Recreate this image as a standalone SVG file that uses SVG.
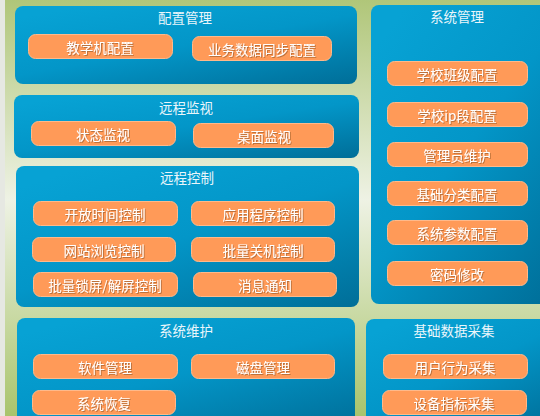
<svg xmlns="http://www.w3.org/2000/svg" width="540" height="416" viewBox="0 0 540 416">
<defs>
<linearGradient id="bg" x1="0" y1="0" x2="0" y2="1">
<stop offset="0" stop-color="#b0c679"/>
<stop offset="0.48" stop-color="#eef2e4"/>
<stop offset="1" stop-color="#a9c46c"/>
</linearGradient>
<linearGradient id="pn" x1="0.2" y1="0" x2="1" y2="1">
<stop offset="0" stop-color="#07a2d4"/>
<stop offset="0.45" stop-color="#0396c8"/>
<stop offset="1" stop-color="#006e98"/>
</linearGradient>
<filter id="sh" x="-10%" y="-30%" width="120%" height="160%">
<feGaussianBlur in="SourceAlpha" stdDeviation="0.6"/>
<feOffset dx="0.5" dy="0.5" result="b"/>
<feFlood flood-color="#7a4a20" flood-opacity="0.5"/>
<feComposite in2="b" operator="in"/>
<feMerge><feMergeNode/><feMergeNode in="SourceGraphic"/></feMerge>
</filter>
</defs>
<style>
.panel{fill:url(#pn)}
.btn{fill:#ff9a58;stroke:#ffb98a;stroke-width:1}
.t{font-family:"Noto Sans CJK SC","Liberation Sans",sans-serif;font-size:13.5px;fill:#ffffff;text-anchor:middle;dominant-baseline:central}
.bt{filter:url(#sh)}
.tt{fill:#eaf6fb}
</style>
<rect x="0" y="0" width="540" height="416" fill="url(#bg)"/>
<rect x="0" y="0" width="5" height="416" fill="#e6e8e2"/>

<g id="peizhi">
<rect class="panel" x="15" y="6" width="342" height="78" rx="8"/>
<text class="t tt" x="185" y="17">配置管理</text>
<g id="jxjpz"><rect class="btn" x="28.5" y="34.5" width="144" height="24" rx="7"/><text class="t bt" x="100" y="46.5">教学机配置</text></g>
<g id="ywsjtb"><rect class="btn" x="192.5" y="36.5" width="139" height="24" rx="7"/><text class="t bt" x="262" y="48.5">业务数据同步配置</text></g>
</g>

<g id="yuanchengjianshi">
<rect class="panel" x="14" y="95" width="345" height="63" rx="8"/>
<text class="t tt" x="186" y="107">远程监视</text>
<g id="ztjs"><rect class="btn" x="31.5" y="121.5" width="144" height="24" rx="7"/><text class="t bt" x="103" y="133.5">状态监视</text></g>
<g id="zmjs"><rect class="btn" x="193.5" y="123.5" width="140" height="24" rx="7"/><text class="t bt" x="264" y="135.5">桌面监视</text></g>
</g>

<g id="yuanchengkongzhi">
<rect class="panel" x="16" y="166" width="343" height="141" rx="8"/>
<text class="t tt" x="187" y="177">远程控制</text>
<g id="kfsj"><rect class="btn" x="33.5" y="201.5" width="144" height="24" rx="7"/><text class="t bt" x="105" y="213.5">开放时间控制</text></g>
<g id="yycx"><rect class="btn" x="191.5" y="201.5" width="143" height="24" rx="7"/><text class="t bt" x="263" y="213.5">应用程序控制</text></g>
<g id="wzll"><rect class="btn" x="32.5" y="237.5" width="143" height="24" rx="7"/><text class="t bt" x="104" y="249.5">网站浏览控制</text></g>
<g id="plgj"><rect class="btn" x="191.5" y="237.5" width="143" height="24" rx="7"/><text class="t bt" x="263" y="249.5">批量关机控制</text></g>
<g id="plsp"><rect class="btn" x="33.5" y="272.5" width="144" height="24" rx="7"/><text class="t bt" x="105" y="284.5">批量锁屏/解屏控制</text></g>
<g id="xxtz"><rect class="btn" x="193.5" y="272.5" width="143" height="24" rx="7"/><text class="t bt" x="265" y="284.5">消息通知</text></g>
</g>

<g id="xitongweihu">
<rect class="panel" x="17" y="318" width="338" height="110" rx="8"/>
<text class="t tt" x="186" y="330">系统维护</text>
<g id="rjgl"><rect class="btn" x="33.5" y="354.5" width="144" height="24" rx="7"/><text class="t bt" x="105" y="366.5">软件管理</text></g>
<g id="cpgl"><rect class="btn" x="191.5" y="354.5" width="143" height="24" rx="7"/><text class="t bt" x="263" y="366.5">磁盘管理</text></g>
<g id="xthf"><rect class="btn" x="32.5" y="390.5" width="143" height="24" rx="7"/><text class="t bt" x="104" y="402.5">系统恢复</text></g>
</g>

<g id="xitongguanli">
<rect class="panel" x="371" y="5" width="180" height="299" rx="8"/>
<text class="t tt" x="457" y="16">系统管理</text>
<g id="xxbj"><rect class="btn" x="387.5" y="61.5" width="140" height="24" rx="7"/><text class="t bt" x="457" y="73.5">学校班级配置</text></g>
<g id="xxip"><rect class="btn" x="387.5" y="102.5" width="140" height="24" rx="7"/><text class="t bt" x="457" y="114.5">学校ip段配置</text></g>
<g id="glywh"><rect class="btn" x="387.5" y="142.5" width="140" height="24" rx="7"/><text class="t bt" x="457" y="154.5">管理员维护</text></g>
<g id="jcfl"><rect class="btn" x="387.5" y="181.5" width="140" height="24" rx="7"/><text class="t bt" x="457" y="193.5">基础分类配置</text></g>
<g id="xtcs"><rect class="btn" x="387.5" y="220.5" width="140" height="24" rx="7"/><text class="t bt" x="457" y="232.5">系统参数配置</text></g>
<g id="mmxg"><rect class="btn" x="387.5" y="261.5" width="140" height="24" rx="7"/><text class="t bt" x="457" y="273.5">密码修改</text></g>
</g>

<g id="jichushuju">
<rect class="panel" x="366" y="319" width="185" height="110" rx="8"/>
<text class="t tt" x="454" y="330">基础数据采集</text>
<g id="yhxw"><rect class="btn" x="383.5" y="354.5" width="144" height="24" rx="7"/><text class="t bt" x="455" y="366.5">用户行为采集</text></g>
<g id="sbzb"><rect class="btn" x="382.5" y="390.5" width="144" height="24" rx="7"/><text class="t bt" x="454" y="402.5">设备指标采集</text></g>
</g>

<g id="connectors"></g>
</svg>
